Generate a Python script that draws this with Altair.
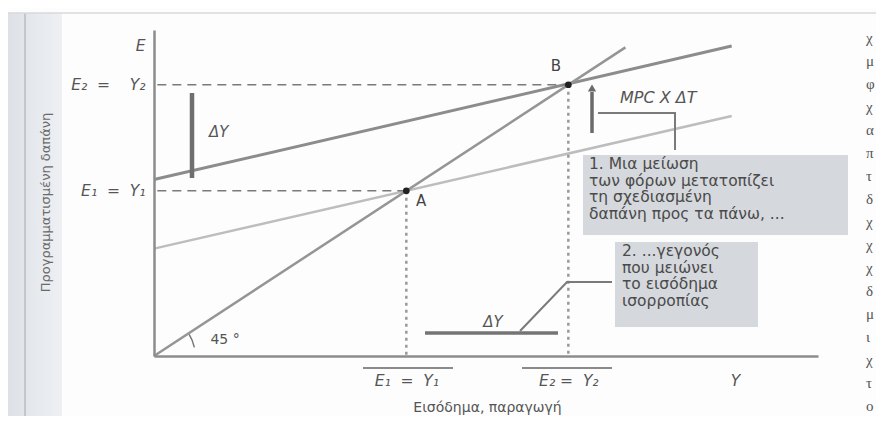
import altair as alt
import pandas as pd

# ---- values (income Y on x, planned expenditure E on y) ----
Y1 = 38.0            # E1 = Y1 (equilibrium before tax cut)
Y2 = 62.4            # E2 = Y2 (equilibrium after tax cut)
line_x = [0.0, 87.0]
E_before = [24.7, 55.2]   # planned expenditure, before
E_after = [40.6, 71.3]    # planned expenditure, after tax cut
deg45 = [0.0, 71.0]

point_names = ["A", "B"]
point_x = [Y1, Y2]
point_y = [Y1, Y2]

NB = "\u00a0"
y_tick_labels = [f"E₁{NB}{NB}={NB}{NB}Y₁", f"E₂{NB}{NB}={NB}{NB}{NB}{NB}Y₂", "E"]
x_tick_labels = [f"E₁{NB}{NB}={NB}{NB}Y₁", f"E₂{NB}={NB}{NB}Y₂", "Y"]

box1_text = "1. Μια μείωση\nτων φόρων μετατοπίζει\nτη σχεδιασμένη\nδαπάνη προς τα πάνω, ..."
box2_text = "2. ...γεγονός\nπου μειώνει\nτο εισόδημα\nισορροπίας"
right_letters = list("χμφχαπτδχχχδμιχτο")

FONT = "DejaVu Sans"
XD = [0, 100]
YD = [0, 75]
xs = alt.Scale(domain=XD, nice=False, zero=False)
ys = alt.Scale(domain=YD, nice=False, zero=False)
PXX = 664 / 100.0
PXY = 326 / 75.0


def px_to_x(p):
    return (p - 154) / PXX


def py_to_y(p):
    return (356 - p) / PXY


one = pd.DataFrame({"k": [0]})
base = alt.Chart(one)

# --- decorations of the scanned page ---
strip = base.mark_rect(
    clip=False,
    fill=alt.Gradient(gradient="linear", stops=[alt.GradientStop(color="#dde1e7", offset=0),
                                                 alt.GradientStop(color="#eef0f3", offset=1)],
                      x1=0, x2=1, y1=0, y2=0)
).encode(x=alt.value(-146), x2=alt.value(-92), y=alt.value(-17), y2=alt.value(386))
strip_line = base.mark_rule(color="#b5bcc4", strokeWidth=1.5, clip=False).encode(
    x=alt.value(-129), y=alt.value(-17), y2=alt.value(386))
top_line = base.mark_rule(color="#d8d8d8", strokeWidth=1.5, clip=False).encode(
    x=alt.value(-146), x2=alt.value(722), y=alt.value(-17))

# --- boxes ---
boxes_df = pd.DataFrame({
    "x": [px_to_x(583), px_to_x(615)], "x2": [px_to_x(848), px_to_x(758)],
    "y": [py_to_y(155), py_to_y(242)], "y2": [py_to_y(235), py_to_y(327)],
})
boxes = alt.Chart(boxes_df).mark_rect(fill="#d5d8dc", clip=False).encode(
    x=alt.X("x:Q", scale=xs), x2="x2", y=alt.Y("y:Q", scale=ys), y2="y2")

# --- lines ---
lines_df = pd.DataFrame({
    "x": line_x + line_x + deg45,
    "y": E_before + E_after + deg45,
    "s": ["before"] * 2 + ["after"] * 2 + ["d45"] * 2,
})
line_before = alt.Chart(lines_df[lines_df.s == "before"]).mark_line(color="#bdbdbd", strokeWidth=2.5, clip=False).encode(
    x=alt.X("x:Q", scale=xs), y=alt.Y("y:Q", scale=ys))
line_after = alt.Chart(lines_df[lines_df.s == "after"]).mark_line(color="#8c8c8c", strokeWidth=3, clip=False).encode(
    x=alt.X("x:Q", scale=xs), y=alt.Y("y:Q", scale=ys))
line_45 = alt.Chart(lines_df[lines_df.s == "d45"]).mark_line(color="#959595", strokeWidth=2.5, clip=False).encode(
    x=alt.X("x:Q", scale=xs), y=alt.Y("y:Q", scale=ys))

pts = pd.DataFrame({"name": point_names, "x": point_x, "y": point_y, "x0": [0.5, 0.5], "y0": [0, 0]})
hdash = alt.Chart(pts).mark_rule(color="#7a7a7a", strokeWidth=1.5, strokeDash=[9, 6], clip=False).encode(
    x=alt.X("x0:Q", scale=xs), x2="x", y=alt.Y("y:Q", scale=ys))
vdot = alt.Chart(pts).mark_rule(color="#9a9a9a", strokeWidth=2.5, strokeDash=[3, 4], clip=False).encode(
    x=alt.X("x:Q", scale=xs), y=alt.Y("y:Q", scale=ys), y2="y0")
dots = alt.Chart(pts).mark_circle(color="#222222", size=45, opacity=1, clip=False).encode(
    x=alt.X("x:Q", scale=xs), y=alt.Y("y:Q", scale=ys))
ptlab_df = pd.DataFrame({"name": point_names, "x": [px_to_x(421), px_to_x(556)],
                         "y": [py_to_y(201), py_to_y(66)]})
ptlab = alt.Chart(ptlab_df).mark_text(font=FONT, fontSize=15, color="#444444", clip=False).encode(
    x=alt.X("x:Q", scale=xs), y=alt.Y("y:Q", scale=ys), text="name:N")

# --- ΔY bars, arrow, leaders ---
bars_df = pd.DataFrame({
    "x": [px_to_x(192), px_to_x(425)], "x2": [px_to_x(192), px_to_x(558)],
    "y": [py_to_y(93), py_to_y(333)], "y2": [py_to_y(178), py_to_y(333)],
    "w": ["v", "h"],
})
vbar = alt.Chart(bars_df[bars_df.w == "v"]).mark_rule(color="#6f6f6f", strokeWidth=4.5, clip=False).encode(
    x=alt.X("x:Q", scale=xs), y=alt.Y("y:Q", scale=ys), y2="y2")
hbar = alt.Chart(bars_df[bars_df.w == "h"]).mark_rule(color="#747474", strokeWidth=3.5, clip=False).encode(
    x=alt.X("x:Q", scale=xs), x2="x2", y=alt.Y("y:Q", scale=ys))

arrow_shaft = base.mark_rule(color="#6a6a6a", strokeWidth=3.5, clip=False).encode(
    x=alt.datum(px_to_x(592), scale=xs), y=alt.datum(py_to_y(133), scale=ys), y2=alt.datum(py_to_y(92)))
arrow_head = base.mark_point(shape="triangle-up", filled=True, color="#6a6a6a", size=70, opacity=1, clip=False).encode(
    x=alt.datum(px_to_x(592), scale=xs), y=alt.datum(py_to_y(88), scale=ys))

lead1 = pd.DataFrame({"x": [px_to_x(598), px_to_x(675), px_to_x(675)],
                      "y": [py_to_y(113), py_to_y(113), py_to_y(150)], "o": [0, 1, 2]})
lead2 = pd.DataFrame({"x": [px_to_x(612), px_to_x(567), px_to_x(520)],
                      "y": [py_to_y(282), py_to_y(282), py_to_y(331)], "o": [0, 1, 2]})
leader1 = alt.Chart(lead1).mark_line(color="#7a7a7a", strokeWidth=2, clip=False).encode(
    x=alt.X("x:Q", scale=xs), y=alt.Y("y:Q", scale=ys), order="o:Q")
leader2 = alt.Chart(lead2).mark_line(color="#7a7a7a", strokeWidth=2, clip=False).encode(
    x=alt.X("x:Q", scale=xs), y=alt.Y("y:Q", scale=ys), order="o:Q")

arc45 = base.mark_arc(radius=42, radius2=40.5, theta=1.02, theta2=1.36, color="#777777", clip=False).encode(
    x=alt.datum(0, scale=xs), y=alt.datum(0, scale=ys))


# --- texts ---
def txt(s, x, y, size=13, style="normal", align="left", baseline="middle", color="#555555", lh=None):
    kw = dict(font=FONT, fontSize=size, fontStyle=style, align=align, baseline=baseline, color=color, clip=False)
    if lh is not None:
        kw.update(lineBreak="\n", lineHeight=lh)
    return base.mark_text(**kw).encode(
        x=alt.datum(x, scale=xs), y=alt.datum(y, scale=ys), text=alt.value(s))


t_box1 = txt(box1_text, px_to_x(589), py_to_y(157), size=15.5, baseline="top", color="#4a4a4a", lh=16.5)
t_box2 = txt(box2_text, px_to_x(622), py_to_y(244), size=15.5, baseline="top", color="#4a4a4a", lh=16.5)
t_mpc = txt("MPC X ΔT", px_to_x(620), py_to_y(98), size=16, style="italic")
t_dy1 = txt("ΔY", px_to_x(209), py_to_y(132), size=15, style="italic")
t_dy2 = txt("ΔY", px_to_x(493), py_to_y(322), size=15, style="italic", align="center")
t_45 = txt("45 °", px_to_x(225), py_to_y(340), size=14, align="center")

overbars = pd.DataFrame({"x": [px_to_x(363), px_to_x(522)], "x2": [px_to_x(453), px_to_x(612)],
                         "y": [py_to_y(368)] * 2})
obars = alt.Chart(overbars).mark_rule(color="#8a8a8a", strokeWidth=2, clip=False).encode(
    x=alt.X("x:Q", scale=xs), x2="x2", y=alt.Y("y:Q", scale=ys))

letters_df = pd.DataFrame({"t": right_letters,
                           "y": [py_to_y(38 + 23 * i) for i in range(len(right_letters))]})
letters = alt.Chart(letters_df).mark_text(font="Liberation Serif", fontSize=15, color="#555555",
                                          align="left", baseline="middle", clip=False).encode(
    x=alt.datum(px_to_x(866), scale=xs), y=alt.Y("y:Q", scale=ys), text="t:N")

# --- axes carried by an invisible layer ---
y_vals = [Y1, Y2, py_to_y(45)]
x_vals = [Y1, Y2, px_to_x(735)]
axes_df = pd.DataFrame({"x": [0, 100], "y": [0, 75]})
axes = alt.Chart(axes_df).mark_point(opacity=0).encode(
    x=alt.X("x:Q", scale=xs, axis=alt.Axis(
        values=x_vals, title="Εισόδημα, παραγωγή", grid=False, ticks=False, zindex=1,
        domainColor="#8c8c8c", domainWidth=2.5,
        labelExpr=f"datum.value < 50 ? '{x_tick_labels[0]}' : datum.value < 80 ? '{x_tick_labels[1]}' : '{x_tick_labels[2]}'",
        labelFont=FONT, labelFontSize=15.5, labelFontStyle="italic", labelColor="#555555",
        labelPadding=17, labelFlush=False, labelOverlap=False,
        titleFont=FONT, titleFontSize=14, titleFontWeight="normal", titleColor="#555555",
        titleX=333, titleY=51, titleAlign="center", titleBaseline="middle")),
    y=alt.Y("y:Q", scale=ys, axis=alt.Axis(
        values=y_vals, title="Προγραμματισμένη δαπάνη", grid=False, ticks=False, zindex=1,
        domainColor="#8c8c8c", domainWidth=2.5,
        labelExpr=f"datum.value < 50 ? '{y_tick_labels[0]}' : datum.value < 70 ? '{y_tick_labels[1]}' : '{y_tick_labels[2]}'",
        labelFont=FONT, labelFontSize=15.5, labelFontStyle="italic", labelColor="#555555",
        labelPadding=9, labelFlush=False, labelOverlap=False,
        titleFont=FONT, titleFontSize=13, titleFontWeight="normal", titleColor="#6a6a6a",
        titleX=-109, titleY=172, titleAngle=270, titleAlign="center", titleBaseline="middle")),
)

chart = alt.layer(
    strip, strip_line, top_line, axes, boxes, line_before, line_after, line_45,
    hdash, vdot, vbar, hbar, arrow_shaft, arrow_head, leader1, leader2, arc45,
    dots, ptlab, t_box1, t_box2, t_mpc, t_dy1, t_dy2, t_45, obars, letters,
).properties(
    width=664, height=326,
    padding={"left": 146, "top": 22, "right": 58, "bottom": 60},
    autosize=alt.AutoSizeParams(type="none"),
    background="#fdfdfd",
).configure_view(stroke=None)

chart.save("out.html", embed_options={"renderer": "svg", "actions": False})
